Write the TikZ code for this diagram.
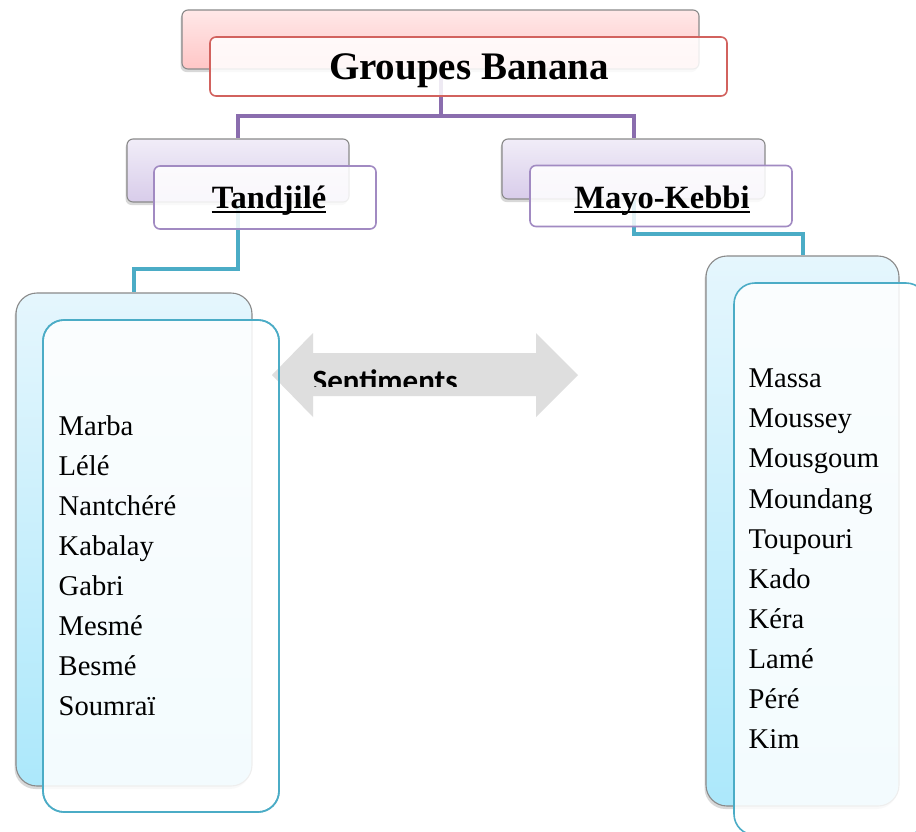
\documentclass[tikz,border=0pt]{standalone}
\usepackage{fontspec}
\setmainfont{Liberation Serif}
\newfontfamily\sentfont{Carlito}
\usetikzlibrary{shadows}
\definecolor{purpline}{HTML}{8A6DAE}
\definecolor{cyanline}{HTML}{4BACC6}
\definecolor{redborder}{HTML}{D2625E}
\definecolor{purpborder}{HTML}{A18AC2}
\definecolor{grayborder}{HTML}{8A8A8A}
\definecolor{arrowgray}{HTML}{DEDEDE}
\definecolor{pinktop}{HTML}{FFE8E8}
\definecolor{pinkbot}{HTML}{FFC6C6}
\definecolor{purtop}{HTML}{F1EDF8}
\definecolor{purbot}{HTML}{D8CCEA}
\definecolor{bluetop}{HTML}{E5F6FD}
\definecolor{bluebot}{HTML}{ACE8FB}
\tikzset{
  backbox/.style={draw=grayborder, line width=1.1pt, inner sep=0pt,
    drop shadow={opacity=0.3, shadow xshift=-1.5pt, shadow yshift=-3pt}},
  smallbox/.style={rounded corners=6pt},
  bigbox/.style={rounded corners=21pt},
  frontbox/.style={fill=white, fill opacity=0.86, line width=1.6pt, inner sep=0pt},
  conn/.style={line width=4pt},
  title/.style={inner sep=0pt, anchor=base, font=\bfseries\fontsize{39}{39}\selectfont},
  sub/.style={inner sep=0pt, anchor=base, font=\bfseries\fontsize{32.5}{32.5}\selectfont},
  uline/.style={line width=2.2pt},
  item/.style={inner sep=0pt, anchor=base west, font=\fontsize{28.6}{28.6}\selectfont},
}
\begin{document}
\begin{tikzpicture}[x=1pt,y=-1pt]
\clip (0,0) rectangle (916,831);
\fill[white] (0,0) rectangle (916,831);
\useasboundingbox (0,0) rectangle (916,831);

% back boxes
\node[backbox, smallbox, top color=pinktop, bottom color=pinkbot,
  minimum width=517pt, minimum height=59pt] (topback) at (440.5,39.5) {};
\node[backbox, smallbox, top color=purtop, bottom color=purbot,
  minimum width=222pt, minimum height=63pt] (tback) at (238,170.5) {};
\node[backbox, smallbox, top color=purtop, bottom color=purbot,
  minimum width=263pt, minimum height=60pt] (mback) at (633.5,169) {};
\node[backbox, bigbox, top color=bluetop, bottom color=bluebot,
  minimum width=236pt, minimum height=493pt] (lback) at (134,539.5) {};
\node[backbox, bigbox, top color=bluetop, bottom color=bluebot,
  minimum width=193pt, minimum height=550pt] (rback) at (802.5,531) {};

% connectors
\coordinate (hub) at (440.5,116);
\coordinate (lj) at (238,269);
\coordinate (rj) at (633.5,234);
\draw[conn, purpline] (topback.south) -- (hub) -| (tback.north);
\draw[conn, purpline] (hub) -| (mback.north);
\draw[conn, cyanline] (tback.south) -- (lj) -| (lback.north);
\draw[conn, cyanline] (mback.south) -- (rj) -| (rback.north);

% front boxes
\node[frontbox, smallbox, draw=redborder,
  minimum width=517pt, minimum height=59pt] (topfront) at (468.5,66.5) {};
\node[frontbox, smallbox, draw=purpborder,
  minimum width=222pt, minimum height=63pt] (tfront) at (265,197.5) {};
\node[frontbox, smallbox, draw=purpborder,
  minimum width=262pt, minimum height=61pt] (mfront) at (661,196) {};
\node[frontbox, bigbox, draw=cyanline,
  minimum width=236pt, minimum height=492pt] (lfront) at (161,566) {};
\node[frontbox, bigbox, draw=cyanline,
  minimum width=193pt, minimum height=552pt] (rfront) at (830.5,559) {};

% double arrow
\fill[arrowgray] (272,375) -- (313,333) -- (313,353) -- (536,353) -- (536,333)
  -- (578,375) -- (536,417) -- (536,396) -- (313,396) -- (313,417) -- cycle;
\begin{scope}
\clip (300,340) rectangle (480,386);
\node[inner sep=0pt, anchor=base west, font=\sentfont\bfseries\fontsize{31}{31}\selectfont]
  (sent) at (312.5,391) {Sentiments};
\end{scope}
% border of the left list box, over the arrow tip
\node[draw=cyanline, line width=1.6pt, bigbox, inner sep=0pt,
  minimum width=236pt, minimum height=492pt] (lfrontedge) at (161,566) {};

% titles
\node[title] (ttl) at (469,79) {Groupes Banana};
\node[sub] (ttand) at (269,208) {Tandjilé\ };
\node[sub] (tmayo) at (662,208) {Mayo-Kebbi};
\draw[uline] ([yshift=-4pt]ttand.base west) -- ([yshift=-4pt]ttand.base east);
\draw[uline] ([yshift=-4pt]tmayo.base west) -- ([yshift=-4pt]tmayo.base east);

% left list
\foreach \t [count=\i from 0] in {Marba,Lélé,Nantchéré,Kabalay,Gabri,Mesmé,Besmé,Soumraï}
  \node[item] (l\i) at (58.5,435+40.1*\i) {\t};
% right list
\foreach \t [count=\i from 0] in {Massa,Moussey,Mousgoum,Moundang,Toupouri,Kado,Kéra,Lamé,Péré,Kim}
  \node[item] (r\i) at (748.5,387.8+40.07*\i) {\t};
\end{tikzpicture}
\end{document}
